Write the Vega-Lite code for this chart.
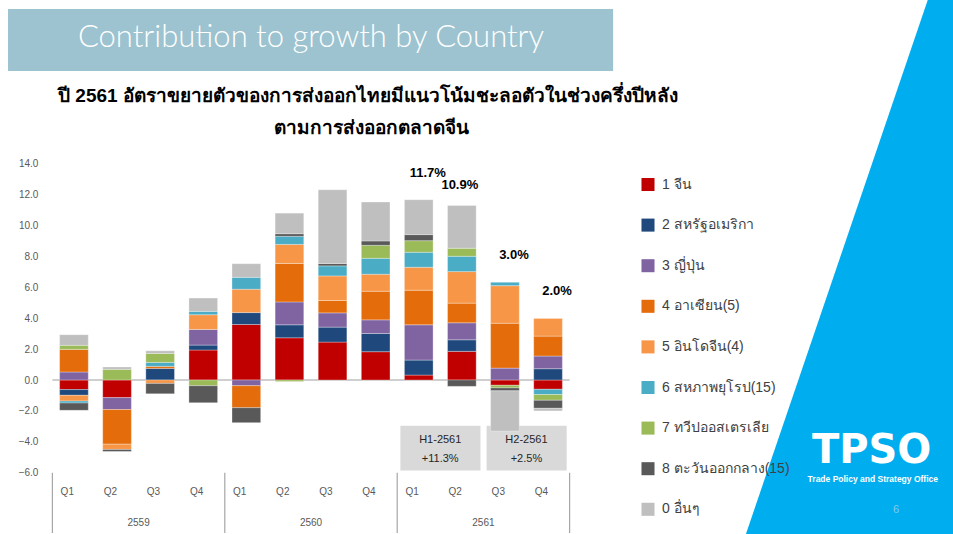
{
  "$schema": "https://vega.github.io/schema/vega-lite/v6.json",
  "width": 517.2,
  "height": 309.3,
  "autosize": {"type": "none"},
  "padding": {"left": 52.4, "top": 163.5, "right": 383.4, "bottom": 61.2},
  "background": "white",
  "config": {
    "view": {"stroke": null},
    "font": "Liberation Sans",
    "axisY": {"labelOverlap": false, "labelBound": false, "tickCount": 11}
  },
  "datasets": {
    "bars": [
      {"period": "2559 Q1", "series": "1 จีน", "order": 1, "value": -0.62},
      {"period": "2559 Q1", "series": "2 สหรัฐอเมริกา", "order": 2, "value": -0.37},
      {"period": "2559 Q1", "series": "3 ญี่ปุ่น", "order": 3, "value": 0.52},
      {"period": "2559 Q1", "series": "4 อาเซียน(5)", "order": 4, "value": 1.46},
      {"period": "2559 Q1", "series": "5 อินโดจีน(4)", "order": 5, "value": -0.37},
      {"period": "2559 Q1", "series": "6 สหภาพยุโรป(15)", "order": 6, "value": -0.13},
      {"period": "2559 Q1", "series": "7 ทวีปออสเตรเลีย", "order": 7, "value": 0.26},
      {"period": "2559 Q1", "series": "8 ตะวันออกกลาง(15)", "order": 8, "value": -0.47},
      {"period": "2559 Q1", "series": "0 อื่นๆ", "order": 9, "value": 0.69},

      {"period": "2559 Q2", "series": "1 จีน", "order": 1, "value": -1.14},
      {"period": "2559 Q2", "series": "3 ญี่ปุ่น", "order": 3, "value": -0.77},
      {"period": "2559 Q2", "series": "4 อาเซียน(5)", "order": 4, "value": -2.24},
      {"period": "2559 Q2", "series": "5 อินโดจีน(4)", "order": 5, "value": -0.34},
      {"period": "2559 Q2", "series": "7 ทวีปออสเตรเลีย", "order": 7, "value": 0.69},
      {"period": "2559 Q2", "series": "8 ตะวันออกกลาง(15)", "order": 8, "value": -0.13},
      {"period": "2559 Q2", "series": "0 อื่นๆ", "order": 9, "value": 0.15},

      {"period": "2559 Q3", "series": "2 สหรัฐอเมริกา", "order": 2, "value": 0.75},
      {"period": "2559 Q3", "series": "4 อาเซียน(5)", "order": 4, "value": 0.13},
      {"period": "2559 Q3", "series": "5 อินโดจีน(4)", "order": 5, "value": -0.22},
      {"period": "2559 Q3", "series": "6 สหภาพยุโรป(15)", "order": 6, "value": 0.26},
      {"period": "2559 Q3", "series": "7 ทวีปออสเตรเลีย", "order": 7, "value": 0.58},
      {"period": "2559 Q3", "series": "8 ตะวันออกกลาง(15)", "order": 8, "value": -0.67},
      {"period": "2559 Q3", "series": "0 อื่นๆ", "order": 9, "value": 0.17},

      {"period": "2559 Q4", "series": "1 จีน", "order": 1, "value": 1.94},
      {"period": "2559 Q4", "series": "2 สหรัฐอเมริกา", "order": 2, "value": 0.32},
      {"period": "2559 Q4", "series": "3 ญี่ปุ่น", "order": 3, "value": 1.01},
      {"period": "2559 Q4", "series": "5 อินโดจีน(4)", "order": 5, "value": 0.95},
      {"period": "2559 Q4", "series": "6 สหภาพยุโรป(15)", "order": 6, "value": 0.22},
      {"period": "2559 Q4", "series": "7 ทวีปออสเตรเลีย", "order": 7, "value": -0.37},
      {"period": "2559 Q4", "series": "8 ตะวันออกกลาง(15)", "order": 8, "value": -1.10},
      {"period": "2559 Q4", "series": "0 อื่นๆ", "order": 9, "value": 0.86},

      {"period": "2560 Q1", "series": "1 จีน", "order": 1, "value": 3.59},
      {"period": "2560 Q1", "series": "2 สหรัฐอเมริกา", "order": 2, "value": 0.77},
      {"period": "2560 Q1", "series": "3 ญี่ปุ่น", "order": 3, "value": -0.37},
      {"period": "2560 Q1", "series": "4 อาเซียน(5)", "order": 4, "value": -1.42},
      {"period": "2560 Q1", "series": "5 อินโดจีน(4)", "order": 5, "value": 1.51},
      {"period": "2560 Q1", "series": "6 สหภาพยุโรป(15)", "order": 6, "value": 0.77},
      {"period": "2560 Q1", "series": "8 ตะวันออกกลาง(15)", "order": 8, "value": -0.97},
      {"period": "2560 Q1", "series": "0 อื่นๆ", "order": 9, "value": 0.88},

      {"period": "2560 Q2", "series": "1 จีน", "order": 1, "value": 2.73},
      {"period": "2560 Q2", "series": "2 สหรัฐอเมริกา", "order": 2, "value": 0.84},
      {"period": "2560 Q2", "series": "3 ญี่ปุ่น", "order": 3, "value": 1.48},
      {"period": "2560 Q2", "series": "4 อาเซียน(5)", "order": 4, "value": 2.49},
      {"period": "2560 Q2", "series": "5 อินโดจีน(4)", "order": 5, "value": 1.23},
      {"period": "2560 Q2", "series": "6 สหภาพยุโรป(15)", "order": 6, "value": 0.52},
      {"period": "2560 Q2", "series": "7 ทวีปออสเตรเลีย", "order": 7, "value": -0.10},
      {"period": "2560 Q2", "series": "8 ตะวันออกกลาง(15)", "order": 8, "value": 0.17},
      {"period": "2560 Q2", "series": "0 อื่นๆ", "order": 9, "value": 1.33},

      {"period": "2560 Q3", "series": "1 จีน", "order": 1, "value": 2.45},
      {"period": "2560 Q3", "series": "2 สหรัฐอเมริกา", "order": 2, "value": 0.97},
      {"period": "2560 Q3", "series": "3 ญี่ปุ่น", "order": 3, "value": 0.92},
      {"period": "2560 Q3", "series": "4 อาเซียน(5)", "order": 4, "value": 0.80},
      {"period": "2560 Q3", "series": "5 อินโดจีน(4)", "order": 5, "value": 1.59},
      {"period": "2560 Q3", "series": "6 สหภาพยุโรป(15)", "order": 6, "value": 0.65},
      {"period": "2560 Q3", "series": "8 ตะวันออกกลาง(15)", "order": 8, "value": 0.15},
      {"period": "2560 Q3", "series": "0 อื่นๆ", "order": 9, "value": 4.77},

      {"period": "2560 Q4", "series": "1 จีน", "order": 1, "value": 1.83},
      {"period": "2560 Q4", "series": "2 สหรัฐอเมริกา", "order": 2, "value": 1.18},
      {"period": "2560 Q4", "series": "3 ญี่ปุ่น", "order": 3, "value": 0.88},
      {"period": "2560 Q4", "series": "4 อาเซียน(5)", "order": 4, "value": 1.85},
      {"period": "2560 Q4", "series": "5 อินโดจีน(4)", "order": 5, "value": 1.10},
      {"period": "2560 Q4", "series": "6 สหภาพยุโรป(15)", "order": 6, "value": 1.03},
      {"period": "2560 Q4", "series": "7 ทวีปออสเตรเลีย", "order": 7, "value": 0.84},
      {"period": "2560 Q4", "series": "8 ตะวันออกกลาง(15)", "order": 8, "value": 0.28},
      {"period": "2560 Q4", "series": "0 อื่นๆ", "order": 9, "value": 2.52},

      {"period": "2561 Q1", "series": "1 จีน", "order": 1, "value": 0.32},
      {"period": "2561 Q1", "series": "2 สหรัฐอเมริกา", "order": 2, "value": 0.97},
      {"period": "2561 Q1", "series": "3 ญี่ปุ่น", "order": 3, "value": 2.28},
      {"period": "2561 Q1", "series": "4 อาเซียน(5)", "order": 4, "value": 2.24},
      {"period": "2561 Q1", "series": "5 อินโดจีน(4)", "order": 5, "value": 1.48},
      {"period": "2561 Q1", "series": "6 สหภาพยุโรป(15)", "order": 6, "value": 0.97},
      {"period": "2561 Q1", "series": "7 ทวีปออสเตรเลีย", "order": 7, "value": 0.75},
      {"period": "2561 Q1", "series": "8 ตะวันออกกลาง(15)", "order": 8, "value": 0.39},
      {"period": "2561 Q1", "series": "0 อื่นๆ", "order": 9, "value": 2.26},

      {"period": "2561 Q2", "series": "1 จีน", "order": 1, "value": 1.85},
      {"period": "2561 Q2", "series": "2 สหรัฐอเมริกา", "order": 2, "value": 0.75},
      {"period": "2561 Q2", "series": "3 ญี่ปุ่น", "order": 3, "value": 1.10},
      {"period": "2561 Q2", "series": "4 อาเซียน(5)", "order": 4, "value": 1.27},
      {"period": "2561 Q2", "series": "5 อินโดจีน(4)", "order": 5, "value": 2.04},
      {"period": "2561 Q2", "series": "6 สหภาพยุโรป(15)", "order": 6, "value": 0.99},
      {"period": "2561 Q2", "series": "7 ทวีปออสเตรเลีย", "order": 7, "value": 0.52},
      {"period": "2561 Q2", "series": "8 ตะวันออกกลาง(15)", "order": 8, "value": -0.41},
      {"period": "2561 Q2", "series": "0 อื่นๆ", "order": 9, "value": 2.77},

      {"period": "2561 Q3", "series": "1 จีน", "order": 1, "value": -0.34},
      {"period": "2561 Q3", "series": "3 ญี่ปุ่น", "order": 3, "value": 0.77},
      {"period": "2561 Q3", "series": "4 อาเซียน(5)", "order": 4, "value": 2.90},
      {"period": "2561 Q3", "series": "5 อินโดจีน(4)", "order": 5, "value": 2.43},
      {"period": "2561 Q3", "series": "6 สหภาพยุโรป(15)", "order": 6, "value": 0.22},
      {"period": "2561 Q3", "series": "7 ทวีปออสเตรเลีย", "order": 7, "value": -0.17},
      {"period": "2561 Q3", "series": "8 ตะวันออกกลาง(15)", "order": 8, "value": -0.19},
      {"period": "2561 Q3", "series": "0 อื่นๆ", "order": 9, "value": -2.60},

      {"period": "2561 Q4", "series": "1 จีน", "order": 1, "value": -0.60},
      {"period": "2561 Q4", "series": "2 สหรัฐอเมริกา", "order": 2, "value": 0.73},
      {"period": "2561 Q4", "series": "3 ญี่ปุ่น", "order": 3, "value": 0.82},
      {"period": "2561 Q4", "series": "4 อาเซียน(5)", "order": 4, "value": 1.29},
      {"period": "2561 Q4", "series": "5 อินโดจีน(4)", "order": 5, "value": 1.14},
      {"period": "2561 Q4", "series": "6 สหภาพยุโรป(15)", "order": 6, "value": -0.34},
      {"period": "2561 Q4", "series": "7 ทวีปออสเตรเลีย", "order": 7, "value": -0.37},
      {"period": "2561 Q4", "series": "8 ตะวันออกกลาง(15)", "order": 8, "value": -0.52},
      {"period": "2561 Q4", "series": "0 อื่นๆ", "order": 9, "value": -0.17}
    ],
    "growth": [
      {"period": "2561 Q1", "label": "11.7%", "top": 11.66},
      {"period": "2561 Q2", "label": "10.9%", "top": 11.29},
      {"period": "2561 Q3", "label": "3.0%", "top": 6.32},
      {"period": "2561 Q4", "label": "2.0%", "top": 3.98}
    ],
    "halves": [
      {"from": "2561 Q1", "to": "2561 Q2", "half": "H1-2561", "growth": "+11.3%"},
      {"from": "2561 Q3", "to": "2561 Q4", "half": "H2-2561", "growth": "+2.5%"}
    ],
    "years": [
      {"period": "2559 Q2", "year": "2559"},
      {"period": "2560 Q2", "year": "2560"},
      {"period": "2561 Q2", "year": "2561"}
    ],
    "yearStarts": [
      {"period": "2559 Q1"},
      {"period": "2560 Q1"},
      {"period": "2561 Q1"}
    ]
  },
  "layer": [
    {
      "data": {"values": [{}]},
      "mark": {"type": "rule", "color": "#00AEEF", "strokeWidth": 220, "strokeCap": "butt"},
      "encoding": {
        "x": {"datum": "2561 Q4", "type": "ordinal", "bandPosition": 18.99},
        "x2": {"datum": "2561 Q4", "bandPosition": 10.2},
        "y": {"datum": 31.04, "type": "quantitative"},
        "y2": {"datum": -16.81}
      }
    },
    {
      "data": {"values": [{}]},
      "mark": {"type": "rect", "color": "#9DC3D0"},
      "encoding": {
        "x": {"datum": "2559 Q1", "type": "ordinal", "bandPosition": -1.8},
        "x2": {"datum": "2561 Q4", "bandPosition": 2.77},
        "y": {"datum": 23.99, "type": "quantitative"},
        "y2": {"datum": 19.98}
      }
    },
    {
      "data": {"values": [{}]},
      "mark": {"type": "text", "color": "white", "font": "Lato", "fontWeight": 300, "fontSize": 31, "baseline": "middle", "align": "center"},
      "encoding": {
        "x": {"datum": "2560 Q2", "type": "ordinal", "bandPosition": 1.252},
        "y": {"datum": 22.12, "type": "quantitative"},
        "text": {"value": "Contribution to growth by Country"}
      }
    },
    {
      "data": {"values": [{}]},
      "mark": {"type": "text", "color": "#000000", "fontWeight": "bold", "fontSize": 19, "baseline": "middle", "align": "center"},
      "encoding": {
        "x": {"datum": "2560 Q2", "type": "ordinal", "bandPosition": 3.24},
        "y": {"datum": 18.36, "type": "quantitative"},
        "text": {"value": "ปี 2561 อัตราขยายตัวของการส่งออกไทยมีแนวโน้มชะลอตัวในช่วงครึ่งปีหลัง"}
      }
    },
    {
      "data": {"values": [{}]},
      "mark": {"type": "text", "color": "#000000", "fontWeight": "bold", "fontSize": 19, "baseline": "middle", "align": "center"},
      "encoding": {
        "x": {"datum": "2560 Q2", "type": "ordinal", "bandPosition": 3.38},
        "y": {"datum": 16.3, "type": "quantitative"},
        "text": {"value": "ตามการส่งออกตลาดจีน"}
      }
    },
    {
      "data": {"name": "halves"},
      "mark": {"type": "rect", "color": "#D9D9D9"},
      "encoding": {
        "x": {"field": "from", "type": "ordinal", "bandPosition": -0.14},
        "x2": {"field": "to", "bandPosition": 1.15},
        "y": {"datum": -2.95, "type": "quantitative"},
        "y2": {"datum": -5.85}
      }
    },
    {
      "data": {"name": "halves"},
      "mark": {"type": "text", "color": "#262626", "fontSize": 11, "baseline": "middle", "align": "center"},
      "encoding": {
        "x": {"field": "from", "type": "ordinal", "bandPosition": 1.25},
        "y": {"datum": -3.86, "type": "quantitative"},
        "text": {"field": "half"}
      }
    },
    {
      "data": {"name": "halves"},
      "mark": {"type": "text", "color": "#262626", "fontSize": 11, "baseline": "middle", "align": "center"},
      "encoding": {
        "x": {"field": "from", "type": "ordinal", "bandPosition": 1.25},
        "y": {"datum": -5.1, "type": "quantitative"},
        "text": {"field": "growth"}
      }
    },
    {
      "data": {"values": [{}]},
      "mark": {"type": "rule", "color": "#BFBFBF", "strokeWidth": 1.5},
      "encoding": {"y": {"datum": 0, "type": "quantitative"}}
    },
    {
      "data": {"name": "bars"},
      "mark": {"type": "bar", "stroke": "white", "strokeWidth": 0.5, "strokeOpacity": 0.6},
      "encoding": {
        "x": {
          "field": "period",
          "type": "ordinal",
          "scale": {
            "domain": ["2559 Q1", "2559 Q2", "2559 Q3", "2559 Q4", "2560 Q1", "2560 Q2", "2560 Q3", "2560 Q4", "2561 Q1", "2561 Q2", "2561 Q3", "2561 Q4"],
            "paddingInner": 0.335,
            "paddingOuter": 0.1675
          },
          "axis": {
            "title": null,
            "labelExpr": "split(datum.value, ' ')[1]",
            "domain": false,
            "ticks": false,
            "labelAngle": 0,
            "labelPadding": 19,
            "labelFontSize": 10,
            "labelColor": "#595959"
          }
        },
        "y": {
          "field": "value",
          "type": "quantitative",
          "stack": "zero",
          "scale": {"domain": [-6, 14], "nice": false, "zero": false},
          "axis": {
            "title": null,
            "values": [-6, -4, -2, 0, 2, 4, 6, 8, 10, 12, 14],
            "format": ".1f",
            "labelOverlap": false,
            "domain": false,
            "ticks": false,
            "grid": false,
            "labelPadding": 14.5,
            "labelFontSize": 10,
            "labelColor": "#595959"
          }
        },
        "color": {
          "field": "series",
          "type": "nominal",
          "scale": {
            "domain": ["1 จีน", "2 สหรัฐอเมริกา", "3 ญี่ปุ่น", "4 อาเซียน(5)", "5 อินโดจีน(4)", "6 สหภาพยุโรป(15)", "7 ทวีปออสเตรเลีย", "8 ตะวันออกกลาง(15)", "0 อื่นๆ"],
            "range": ["#C00000", "#1F497D", "#8064A2", "#E46C0A", "#F79646", "#4BACC6", "#9BBB59", "#595959", "#BFBFBF"]
          },
          "legend": {
            "orient": "none",
            "legendX": 588.6,
            "legendY": 14,
            "title": null,
            "symbolType": "square",
            "symbolSize": 170,
            "symbolStrokeWidth": 0,
            "labelFontSize": 14,
            "labelColor": "#404040",
            "labelOffset": 7,
            "rowPadding": 26.6,
            "padding": 0
          }
        },
        "order": {"field": "order", "type": "quantitative"}
      }
    },
    {
      "data": {"name": "growth"},
      "transform": [{"filter": "datum.period != '2561 Q2'"}],
      "mark": {"type": "text", "fontSize": 13, "fontWeight": "bold", "color": "#000000", "baseline": "middle", "align": "center", "dx": 9, "dy": -27},
      "encoding": {
        "x": {"field": "period", "type": "ordinal"},
        "y": {"field": "top", "type": "quantitative"},
        "text": {"field": "label"}
      }
    },
    {
      "data": {"name": "growth"},
      "transform": [{"filter": "datum.period == '2561 Q2'"}],
      "mark": {"type": "text", "fontSize": 13, "fontWeight": "bold", "color": "#000000", "baseline": "middle", "align": "center", "dx": -2, "dy": -20},
      "encoding": {
        "x": {"field": "period", "type": "ordinal"},
        "y": {"field": "top", "type": "quantitative"},
        "text": {"field": "label"}
      }
    },
    {
      "data": {"name": "yearStarts"},
      "mark": {"type": "rule", "color": "#A6A6A6", "strokeWidth": 1.2},
      "encoding": {
        "x": {"field": "period", "type": "ordinal", "bandPosition": -0.252},
        "y": {"datum": -6, "type": "quantitative"},
        "y2": {"datum": -9.9}
      }
    },
    {
      "data": {"values": [{}]},
      "mark": {"type": "rule", "color": "#A6A6A6", "strokeWidth": 1.2},
      "encoding": {
        "x": {"datum": "2561 Q4", "type": "ordinal", "bandPosition": 1.252},
        "y": {"datum": -6, "type": "quantitative"},
        "y2": {"datum": -9.9}
      }
    },
    {
      "data": {"name": "years"},
      "mark": {"type": "text", "fontSize": 10, "color": "#595959", "baseline": "middle", "align": "center"},
      "encoding": {
        "x": {"field": "period", "type": "ordinal", "bandPosition": 1.252},
        "y": {"datum": -9.25, "type": "quantitative"},
        "text": {"field": "year"}
      }
    },
    {
      "data": {"values": [{}]},
      "mark": {"type": "text", "font": "DejaVu Sans", "fontWeight": "bold", "fontSize": 40, "color": "white", "baseline": "middle", "align": "center"},
      "encoding": {
        "x": {"datum": "2561 Q4", "type": "ordinal", "bandPosition": 11.79},
        "y": {"datum": -4.62, "type": "quantitative"},
        "text": {"value": "TPSO"}
      }
    },
    {
      "data": {"values": [{}]},
      "mark": {"type": "text", "fontWeight": "bold", "fontSize": 8.5, "color": "white", "baseline": "middle", "align": "center"},
      "encoding": {
        "x": {"datum": "2561 Q4", "type": "ordinal", "bandPosition": 11.83},
        "y": {"datum": -6.4, "type": "quantitative"},
        "text": {"value": "Trade Policy and Strategy Office"}
      }
    },
    {
      "data": {"values": [{}]},
      "mark": {"type": "text", "fontSize": 11, "color": "#7FCBEA", "baseline": "middle", "align": "center"},
      "encoding": {
        "x": {"datum": "2561 Q4", "type": "ordinal", "bandPosition": 12.64},
        "y": {"datum": -8.41, "type": "quantitative"},
        "text": {"value": "6"}
      }
    }
  ]
}
